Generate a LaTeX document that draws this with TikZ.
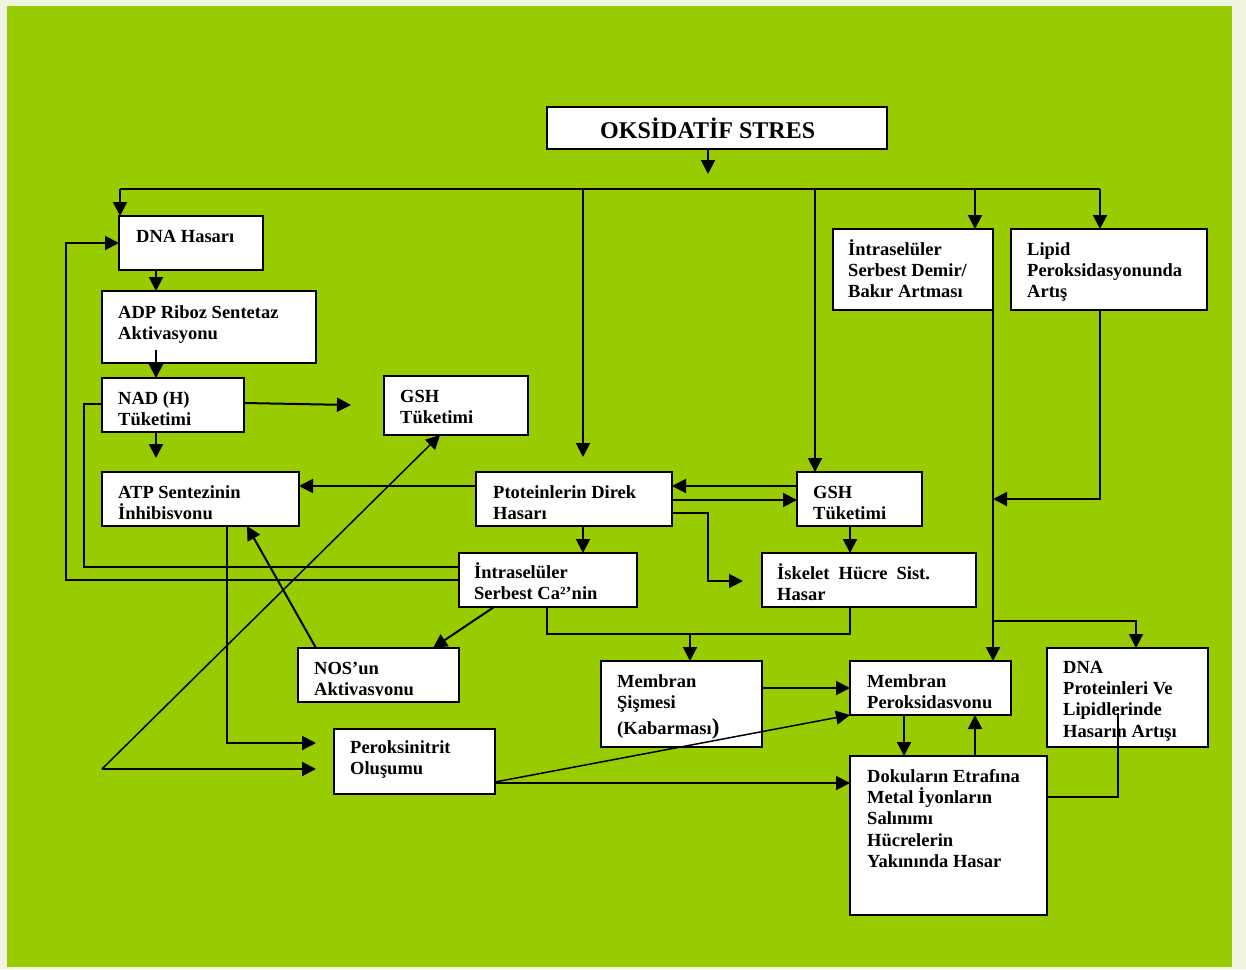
\documentclass[tikz,border=0pt]{standalone}
\usepackage{fontspec}
\setmainfont{Liberation Serif}
\usetikzlibrary{arrows.meta}
\definecolor{leaf}{HTML}{99CC00}
\definecolor{rim}{HTML}{EEF3E2}

\tikzset{
  panel/.style={draw=black, fill=white, line width=2.2pt, inner sep=0pt, outer sep=0pt},
  txt/.style={font=\fontsize{18.5}{21.4}\selectfont\bfseries, align=left, inner sep=0pt, anchor=base west},
  link/.style={line width=2pt},
  arr/.style={link, -{Triangle[length=14pt,width=14pt]}},
  thinarr/.style={line width=1.5pt, -{Triangle[length=14pt,width=14pt]}},
}

% box from (x1,y1) to (x2,y2); text block placed by (tx, baseline of its last line)
\newcommand\panelnode[8]{%
  \node[panel, minimum width={(#4-#2)*1pt}, minimum height={(#5-#3)*1pt}]
    (#1) at ({(#2+#4)/2},{(#3+#5)/2}) {};
  \node[txt] (#1-t) at (#6,#7) {#8};
}

\begin{document}
\begin{tikzpicture}[x=1pt, y=-1pt]
  \useasboundingbox (0,0) rectangle (1246,969);
  \fill[rim] (0,0) rectangle (1246,969);
  \fill[leaf] (7,6) rectangle (1232,967);

  % ---- boxes ----
  \node[panel, minimum width=340pt, minimum height=42pt] (oks) at (717,128) {};
  \node[txt, font=\fontsize{24}{24}\selectfont\bfseries] (oks-t) at (600,138) {OKSİDATİF STRES};

  \panelnode{dna}{119}{216}{263}{270}{136}{242}{DNA Hasarı}
  \panelnode{adp}{102}{291}{316}{363}{118}{339.4}{ADP Riboz Sentetaz\\Aktivasyonu}
  \panelnode{nad}{102}{378}{244}{432}{118}{425.4}{NAD (H)\\Tüketimi}
  \panelnode{gshL}{384}{376}{528}{435}{400}{423.4}{GSH\\Tüketimi}
  \panelnode{atp}{102}{472}{299}{526}{118}{519.4}{ATP Sentezinin\\İnhibisvonu}
  \panelnode{prot}{476}{472}{672}{526}{493}{519.4}{Ptoteinlerin Direk\\Hasarı}
  \panelnode{gshR}{797}{472}{922}{526}{813}{519.4}{GSH\\Tüketimi}
  \panelnode{ca}{459}{553}{637}{607}{474}{599.4}{İntraselüler\\Serbest Ca²’nin}
  \panelnode{isk}{762}{553}{976}{607}{777}{600.4}{İskelet\hspace{9pt}Hücre\hspace{9pt}Sist.\\Hasar}
  \panelnode{demir}{833}{229}{993}{310}{848}{297.8}{İntraselüler\\Serbest Demir/\\Bakır Artması}
  \panelnode{lipid}{1011}{229}{1207}{310}{1027}{297.8}{Lipid\\Peroksidasyonunda\\Artış}
  \panelnode{perox}{334}{729}{495}{794}{350}{774.4}{Peroksinitrit\\Oluşumu}
  \panelnode{msis}{601}{661}{762}{747}{617}{734.8}{Membran\\Şişmesi\\[5pt](Kabarması{\fontsize{23}{23}\selectfont)}}
  \panelnode{mper}{850}{661}{1011}{715}{867}{708.4}{Membran\\Peroksidasvonu}
  \panelnode{dok}{850}{756}{1047}{915}{867}{867.6}{Dokuların Etrafına\\Metal İyonların\\Salınımı\\Hücrelerin\\Yakınında Hasar}
  \panelnode{dnap}{1047}{648}{1208}{747}{1063}{737.2}{DNA\\Proteinleri Ve\\Lipidlerinde\\Hasarın Artışı}

  % NOS box: its second line is cut by the box margin
  \node[panel, minimum width=161pt, minimum height=54pt] (nos) at (378.5,675) {};
  \begin{scope}
    \clip (298,640) rectangle (459,695);
    \node[txt] (nos-t) at (314,695.4) {NOS’un\\Aktivasyonu};
  \end{scope}

  % ---- free ends ----
  \coordinate (oksTip) at (708,174);
  \coordinate (busL) at (120,189);
  \coordinate (busR) at (1100,189);
  \coordinate (protTip) at (583,457);
  \coordinate (adpIn) at (156,350);
  \coordinate (nadTip) at (156,458);
  \coordinate (gshTip) at (351,405);
  \coordinate (iskTip) at (743,581);
  \coordinate (peroxTipA) at (316,743);
  \coordinate (peroxTipB) at (316,769);
  \coordinate (apex) at (102,769);

  % ---- connectors ----
  \draw[arr] (oks.south -| oksTip) -- (oksTip);
  \draw[link] (busL) -- (busR);
  \draw[arr] (busL) -- (dna.north -| busL);
  \draw[arr] (583,189) -- (protTip);
  \draw[arr] (815,189) -- (gshR.north -| 815,0);
  \draw[arr] (975,189) -- (demir.north -| 975,0);
  \draw[arr] (busR) -- (lipid.north -| busR);

  \draw[arr] (dna.south -| 156,0) -- (adp.north -| 156,0);
  \draw[arr] (adpIn) -- (nad.north -| adpIn);
  \draw[arr] (nad.south -| nadTip) -- (nadTip);
  \draw[arr] (nad.east |- 0,403) -- (gshTip);

  \draw[link] (ca.west |- 0,567) -- (84,567) -- (84,404) -- (nad.west |- 0,404);
  \draw[arr] (ca.west |- 0,580) -- (66,580) -- (66,243) -- (dna.west |- 0,243);

  \draw[arr] (prot.west |- 0,486) -- (atp.east |- 0,486);
  \draw[arr] (gshR.west |- 0,486) -- (prot.east |- 0,486);
  \draw[arr] (prot.east |- 0,500) -- (gshR.west |- 0,500);
  \draw[arr] (prot.east |- 0,513) -- (708,513) -- (708,581) -- (iskTip);
  \draw[arr] (prot.south -| 583,0) -- (ca.north -| 583,0);
  \draw[arr] (gshR.south -| 850,0) -- (isk.north -| 850,0);

  \draw[link] (ca.south -| 547,0) -- (547,634) -- (850,634) -- (isk.south -| 850,0);
  \draw[arr] (690,634) -- (msis.north -| 690,0);

  \draw[arr] (ca.south -| 494,0) -- (nos.north -| 433,0);
  \draw[arr] (nos.north -| 316,0) -- (atp.south -| 247,0);
  \draw[arr] (atp.south -| 227,0) -- (227,743) -- (peroxTipA);
  \draw[thinarr] (apex) -- (gshL.south -| 440,0);
  \draw[arr] (apex) -- (peroxTipB);

  \draw[thinarr] (perox.east |- 0,782) -- (mper.south west);
  \draw[arr] (perox.east |- 0,783) -- (dok.west |- 0,783);
  \draw[arr] (msis.east |- 0,688) -- (mper.west |- 0,688);
  \draw[arr] (mper.south -| 904,0) -- (dok.north -| 904,0);
  \draw[arr] (dok.north -| 975,0) -- (mper.south -| 975,0);

  \draw[arr] (demir.south east) -- (mper.north -| demir.south east);
  \draw[arr] (lipid.south -| 1100,0) -- (1100,499) -- (993,499);
  \draw[arr] (993,621) -- (1136,621) -- (dnap.north -| 1136,0);
  \draw[link] (dok.east |- 0,797) -- (1118,797) -- (1118,713);
\end{tikzpicture}
\end{document}
